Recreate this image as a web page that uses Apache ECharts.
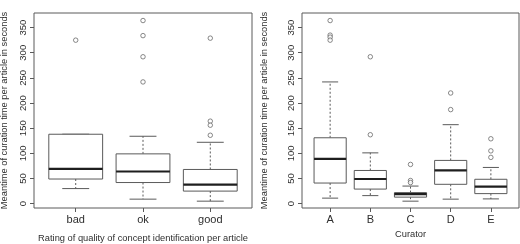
<!DOCTYPE html>
<html>
<head>
<meta charset="utf-8">
<script src="https://cdn.jsdelivr.net/npm/echarts@6/dist/echarts.min.js"></script>
<style>
  html, body { margin: 0; padding: 0; background: #fff; }
  #chart { width: 520px; height: 244px; }
</style>
</head>
<body>
<div id="chart"></div>
<script>
// left panel: rating of concept identification
const ratingCats = ['bad', 'ok', 'good']
// [lower whisker, Q1, median, Q3, upper whisker]
const ratingBoxes = [
  [30, 49, 69, 138, 138],
  [9, 42, 64, 99, 134],
  [5, 25, 38, 68, 122]
]
const ratingOutliers = [
  [325],
  [364, 334, 292, 242],
  [329, 164, 156, 136]
]

// right panel: curator
const curatorCats = ['A', 'B', 'C', 'D', 'E']
const curatorBoxes = [
  [11, 41, 89, 131, 242],
  [16, 29, 49, 66, 101],
  [5, 13, 19, 22, 35],
  [9, 38.5, 66, 86, 157],
  [9.5, 20, 34, 48.5, 72]
]
const curatorOutliers = [
  [364, 335, 331, 325],
  [292, 137],
  [78, 46, 42],
  [220, 187],
  [129, 105, 92]
]

const yTicks = [0, 50, 100, 150, 200, 250, 300, 350]
const yTitle = 'Meantime of curation time per article in seconds'

const FONT = 'Liberation Sans, Arial, sans-serif'
const TXT = '#2e2e2e'
const LINE = '#5a5a5a'

const boxData = (boxes) => boxes.map((b, i) => [i + 1].concat(b))
const outlierData = (outs) => {
  const pts = []
  outs.forEach((vals, i) => vals.forEach((v) => pts.push([i + 1, v])))
  return pts
}

// R style box: dashed whiskers, short caps, thick median
const renderBox = (params, api) => {
  const x = api.value(0)
  const lo = api.value(1)
  const q1 = api.value(2)
  const med = api.value(3)
  const q3 = api.value(4)
  const hi = api.value(5)
  const half = 0.4
  const cap = 0.2
  const tl = api.coord([x - half, q3])
  const br = api.coord([x + half, q1])
  const m1 = api.coord([x - half, med])
  const m2 = api.coord([x + half, med])
  const c = api.coord([x, q3])
  const pHi = api.coord([x, hi])
  const pLo = api.coord([x, lo])
  const pQ1 = api.coord([x, q1])
  const capHiL = api.coord([x - cap, hi])
  const capHiR = api.coord([x + cap, hi])
  const capLoL = api.coord([x - cap, lo])
  const capLoR = api.coord([x + cap, lo])
  const thin = { stroke: LINE, lineWidth: 1, fill: null }
  const dashed = { stroke: LINE, lineWidth: 1, lineDash: [2, 2], fill: null }
  return {
    type: 'group',
    children: [
      { type: 'line', shape: { x1: c[0], y1: c[1], x2: pHi[0], y2: pHi[1] }, style: dashed },
      { type: 'line', shape: { x1: pQ1[0], y1: pQ1[1], x2: pLo[0], y2: pLo[1] }, style: dashed },
      { type: 'line', shape: { x1: capHiL[0], y1: capHiL[1], x2: capHiR[0], y2: capHiR[1] }, style: thin },
      { type: 'line', shape: { x1: capLoL[0], y1: capLoL[1], x2: capLoR[0], y2: capLoR[1] }, style: thin },
      {
        type: 'rect',
        shape: { x: tl[0], y: tl[1], width: br[0] - tl[0], height: br[1] - tl[1] },
        style: { stroke: LINE, lineWidth: 1, fill: '#fff' }
      },
      { type: 'line', shape: { x1: m1[0], y1: m1[1], x2: m2[0], y2: m2[1] }, style: { stroke: '#1e1e1e', lineWidth: 2.2 } }
    ]
  }
}

const makeX = (gridIndex, cats, min, max, title, gap) => ({
  type: 'value',
  gridIndex,
  min,
  max,
  name: title,
  nameLocation: 'middle',
  nameGap: gap,
  nameTextStyle: { fontFamily: FONT, fontSize: 9.3, color: TXT },
  axisLine: { show: false, onZero: false },
  splitLine: { show: false },
  axisTick: { show: true, length: 4, customValues: cats.map((_, i) => i + 1), lineStyle: { color: LINE } },
  axisLabel: {
    customValues: cats.map((_, i) => i + 1),
    formatter: (v) => cats[Math.round(v) - 1],
    fontFamily: FONT,
    fontSize: 11,
    color: TXT,
    margin: 6
  }
})

const makeY = (gridIndex, gap) => ({
  type: 'value',
  gridIndex,
  min: -8.6,
  max: 379,
  name: yTitle,
  nameLocation: 'middle',
  nameRotate: 90,
  nameGap: gap,
  nameTextStyle: { fontFamily: FONT, fontSize: 9.3, color: TXT },
  axisLine: { show: false, onZero: false },
  splitLine: { show: false },
  axisTick: { show: true, length: 4, customValues: yTicks, lineStyle: { color: LINE } },
  axisLabel: {
    customValues: yTicks,
    rotate: 90,
    fontFamily: FONT,
    fontSize: 9.5,
    color: TXT,
    margin: 6
  }
})

const outlierStyle = { color: '#fff', borderColor: LINE, borderWidth: 0.9 }
const gridBase = { top: 13, height: 195, show: true, borderColor: LINE, borderWidth: 1, backgroundColor: 'transparent', outerBoundsMode: 'none', containLabel: false }

const chart = echarts.init(document.getElementById('chart'))
chart.setOption({
  animation: false,
  grid: [
    Object.assign({ left: 34, width: 218 }, gridBase),
    Object.assign({ left: 302, width: 217 }, gridBase)
  ],
  xAxis: [
    makeX(0, ratingCats, 0.38, 3.62, 'Rating of quality of concept identification per article', 26),
    makeX(1, curatorCats, 0.3, 5.7, 'Curator', 21)
  ],
  yAxis: [makeY(0, 25), makeY(1, 33)],
  series: [
    { type: 'custom', xAxisIndex: 0, yAxisIndex: 0, renderItem: renderBox, data: boxData(ratingBoxes), encode: { x: 0, y: [1, 2, 3, 4, 5] } },
    { type: 'custom', xAxisIndex: 1, yAxisIndex: 1, renderItem: renderBox, data: boxData(curatorBoxes), encode: { x: 0, y: [1, 2, 3, 4, 5] } },
    {
      type: 'scatter', xAxisIndex: 0, yAxisIndex: 0, data: outlierData(ratingOutliers), z: 5,
      symbol: 'circle', symbolSize: 4.5, itemStyle: outlierStyle
    },
    {
      type: 'scatter', xAxisIndex: 1, yAxisIndex: 1, data: outlierData(curatorOutliers), z: 5,
      symbol: 'circle', symbolSize: 4.5, itemStyle: outlierStyle
    }
  ]
})
</script>
</body>
</html>
